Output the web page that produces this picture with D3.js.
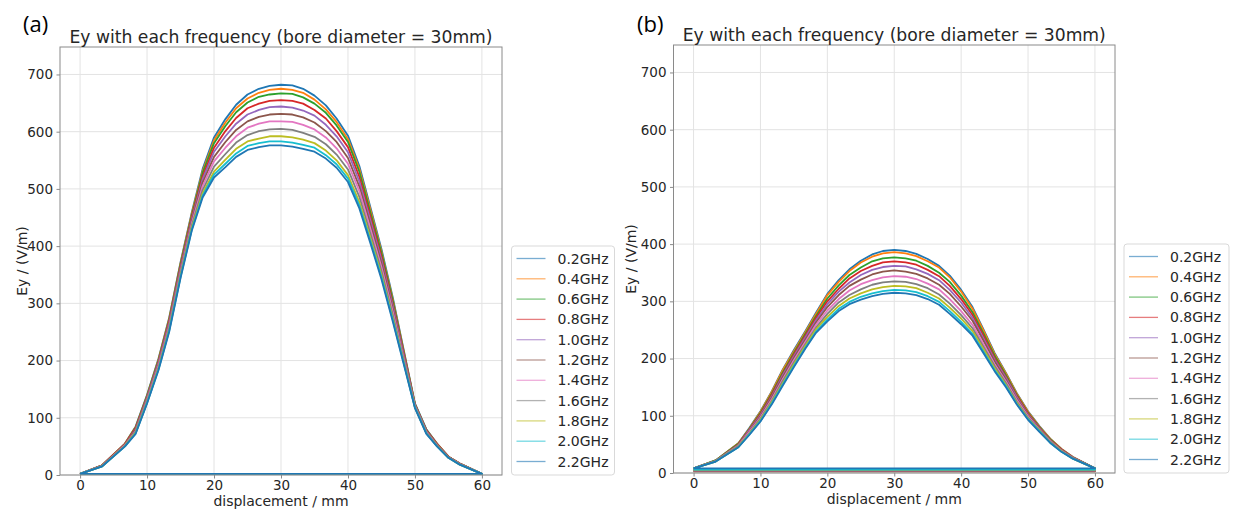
<!DOCTYPE html>
<html><head><meta charset="utf-8">
<script src="https://cdn.jsdelivr.net/npm/d3@7"></script>
<style>body{margin:0;background:#fff}svg{display:block}</style>
</head><body><svg id="c" width="1243" height="512"></svg>
<script>
// ---------- data ----------
const displacement = [0,3.3,6.7,8.3,10,11.7,13.3,15,16.7,18.3,20,21.7,23.3,25,26.7,28.3,30,31.7,33.3,35,36.7,38.3,40,41.7,43.3,45,46.7,48.3,50,51.7,53.3,55,56.7,60];
const freqLabels = ["0.2GHz","0.4GHz","0.6GHz","0.8GHz","1.0GHz","1.2GHz","1.4GHz","1.6GHz","1.8GHz","2.0GHz","2.2GHz"];
const lineColors = ["#1f77b4","#ff7f0e","#2ca02c","#d62728","#9467bd","#8c564b","#e377c2","#7f7f7f","#bcbd22","#17becf","#1f77b4"];
const xTicks = [0,10,20,30,40,50,60];
const yTicks = [0,100,200,300,400,500,600,700];
const titleText = "Ey with each frequency (bore diameter = 30mm)";

// panel (a): Ey per frequency along displacement
const eyA = [
 [2,17,55,85,140,203,275,372,460,535,590,622,647,665,675,680,682,681,675,663,646,623,593,540,470,395,310,220,125,80,55,32,20,2],
 [2,17,55,84,139,202,273,370,458,531,585,616,641,658,668,673,675,673,668,656,639,617,587,535,466,391,307,218,124,79,55,32,20,2],
 [2,17,54,83,138,200,271,368,455,528,580,610,634,651,661,665,667,666,660,649,633,611,582,530,461,388,304,216,124,79,54,32,20,2],
 [2,17,54,82,136,198,269,365,452,522,572,601,624,641,649,654,655,654,649,638,623,601,573,521,454,382,299,214,123,78,54,32,20,2],
 [2,16,53,80,135,196,266,362,448,517,565,592,614,630,638,643,644,642,637,628,612,592,564,513,447,376,295,211,122,77,53,31,19,2],
 [2,16,53,79,133,193,263,359,445,511,556,582,603,618,626,630,631,630,625,616,601,582,554,504,440,370,290,208,121,76,53,31,19,2],
 [2,16,52,77,131,191,260,355,441,505,548,572,592,607,614,618,618,617,612,604,590,571,544,496,432,363,285,205,120,75,52,31,19,2],
 [2,16,51,76,129,188,257,352,437,498,539,561,581,594,601,604,605,603,598,591,578,560,534,486,424,356,279,202,119,74,51,31,19,2],
 [2,15,51,74,127,186,254,348,433,492,530,551,570,583,588,592,592,590,586,580,567,550,524,477,416,350,274,199,118,73,51,30,18,2],
 [2,15,50,73,126,184,252,346,430,488,525,544,562,575,580,583,583,581,577,572,559,543,518,471,411,346,271,197,118,73,50,30,18,2],
 [2,15,50,72,125,183,250,344,428,485,520,538,556,568,573,576,576,574,570,565,553,537,512,466,407,342,268,195,117,72,50,30,18,2]
];
const baseA = [1,1,1,1,1,1,2,2,2,2,2];

// panel (b)
const eyB = [
 [8,22,52,78,108,143,180,215,248,280,313,337,356,371,382,388,390,388,383,374,362,345,320,290,252,210,175,140,108,82,60,42,28,8],
 [8,22,52,77,107,142,179,213,246,278,311,334,353,368,378,384,386,384,379,370,359,342,317,287,250,208,174,139,107,81,60,42,28,8],
 [8,22,51,76,105,139,175,210,243,274,305,328,346,359,370,375,377,375,371,362,350,334,310,281,245,205,171,137,105,80,59,41,27,8],
 [8,21,50,75,103,137,172,207,240,271,300,322,340,353,362,368,370,368,364,355,344,327,304,276,241,201,168,135,104,79,58,41,27,8],
 [8,21,49,74,101,134,170,204,237,267,295,317,333,346,355,360,362,361,356,348,337,320,298,271,236,198,166,133,102,78,57,40,27,8],
 [8,21,49,72,99,132,167,201,233,263,290,311,327,338,347,352,354,352,348,340,329,313,291,266,232,195,163,130,101,77,57,40,27,8],
 [8,21,48,71,97,129,163,197,229,259,284,304,319,330,337,342,344,343,339,331,321,304,283,259,226,190,160,128,99,76,56,39,26,8],
 [8,21,47,69,95,126,160,193,225,254,278,298,311,321,329,333,335,334,330,323,312,296,276,253,221,187,157,125,97,75,55,38,26,8],
 [8,20,46,68,93,124,156,190,222,251,273,292,305,314,321,325,327,326,323,315,305,289,270,248,217,183,154,123,95,74,54,38,25,8],
 [8,20,45,67,91,122,154,187,219,247,268,287,299,308,314,318,320,319,316,309,299,283,264,243,213,180,152,121,94,73,53,37,25,8],
 [8,20,45,66,90,120,152,185,217,245,265,283,295,303,309,313,315,314,311,304,294,278,260,240,210,178,150,120,93,72,53,37,25,8]
];
const baseB = [3,3,4,4,4,5,5,5,6,6,8];

// ---------- drawing ----------
const svg = d3.select("#c");
const FONT = "DejaVu Sans, sans-serif";
const TXT = "#262626";

const panels = [
  {id:"a", tag:"(a)", tagX:23, left:60, right:502, top:47, bottom:475, data:eyA, base:baseA, ylabX:22,
   legX:511.5, legY:246, legW:103, legH:229},
  {id:"b", tag:"(b)", tagX:637, left:673.5, right:1115, top:45, bottom:473, data:eyB, base:baseB, ylabX:631,
   legX:1124, legY:244, legW:105, legH:229}
];

panels.forEach(p => {
  const g = svg.append("g");
  const x = d3.scaleLinear().domain([-3,63]).range([p.left,p.right]);
  const y = d3.scaleLinear().domain([0,748]).range([p.bottom,p.top]);

  // grid
  g.append("g").selectAll("line").data(xTicks).join("line")
    .attr("x1",d=>x(d)).attr("x2",d=>x(d)).attr("y1",p.top).attr("y2",p.bottom)
    .attr("stroke","#e3e3e3").attr("stroke-width",1);
  g.append("g").selectAll("line").data(yTicks).join("line")
    .attr("y1",d=>y(d)).attr("y2",d=>y(d)).attr("x1",p.left).attr("x2",p.right)
    .attr("stroke","#e3e3e3").attr("stroke-width",1);

  // clip
  svg.append("clipPath").attr("id","clip"+p.id).append("rect")
    .attr("x",p.left).attr("y",p.top).attr("width",p.right-p.left).attr("height",p.bottom-p.top);

  const line = d3.line().x(d=>x(d[0])).y(d=>y(d[1]));
  const lg = g.append("g").attr("clip-path","url(#clip"+p.id+")");
  p.data.forEach((vals,i) => {
    const pts = displacement.map((xv,j)=>[xv, vals[j]]);
    pts.push([60, p.base[i]]); pts.push([0, p.base[i]]);
    lg.append("path").attr("d", line(pts)).attr("fill","none")
      .attr("stroke", lineColors[i]).attr("stroke-width",1.8).attr("stroke-linejoin","round");
  });

  // spines
  g.append("rect").attr("x",p.left).attr("y",p.top).attr("width",p.right-p.left).attr("height",p.bottom-p.top)
    .attr("fill","none").attr("stroke","#8a8a8a").attr("stroke-width",1);

  // axes
  const xa = g.append("g").attr("transform",`translate(0,${p.bottom})`)
    .call(d3.axisBottom(x).tickValues(xTicks).tickSize(3.5).tickPadding(2).tickFormat(d3.format("d")));
  const ya = g.append("g").attr("transform",`translate(${p.left},0)`)
    .call(d3.axisLeft(y).tickValues(yTicks).tickSize(3.5).tickPadding(3.5).tickFormat(d3.format("d")));
  [xa,ya].forEach(a => {
    a.select(".domain").remove();
    a.selectAll(".tick line").attr("stroke","#8a8a8a");
    a.selectAll(".tick text").attr("fill",TXT).style("font-family",FONT).style("font-size","13.5px");
  });

  // labels
  g.append("text").attr("x",(p.left+p.right)/2).attr("y",p.top-4).attr("text-anchor","middle")
    .style("font-family",FONT).style("font-size","17.2px").attr("fill",TXT).text(titleText);
  g.append("text").attr("x",(p.left+p.right)/2).attr("y",p.bottom+31).attr("text-anchor","middle")
    .style("font-family",FONT).style("font-size","14px").attr("fill",TXT).text("displacement / mm");
  g.append("text").attr("transform",`translate(${p.ylabX},${(p.top+p.bottom)/2}) rotate(-90)`)
    .attr("text-anchor","middle").attr("dy","0.35em")
    .style("font-family",FONT).style("font-size","14px").attr("fill",TXT).text("Ey / (V/m)");
  g.append("text").attr("x",p.tagX).attr("y",32)
    .style("font-family","Open Sans, sans-serif").style("font-size","22px").attr("fill","#000").text(p.tag);

  // legend
  const leg = g.append("g").attr("transform",`translate(${p.legX},${p.legY})`);
  leg.append("rect").attr("width",p.legW).attr("height",p.legH).attr("rx",3)
    .attr("fill","#fff").attr("fill-opacity",0.8).attr("stroke","#d9d9d9");
  const rows = leg.selectAll("g.row").data(freqLabels).join("g").attr("class","row")
    .attr("transform",(d,i)=>`translate(0,${12.5 + i*20.3})`);
  rows.append("line").attr("x1",5).attr("x2",34).attr("y1",0).attr("y2",0)
    .attr("stroke",(d,i)=>lineColors[i]).attr("stroke-width",1.3).attr("stroke-opacity",0.6);
  rows.append("text").attr("x",46).attr("dy","0.36em")
    .style("font-family",FONT).style("font-size","14px").attr("fill",TXT).text(d=>d);
});
</script></body></html>
